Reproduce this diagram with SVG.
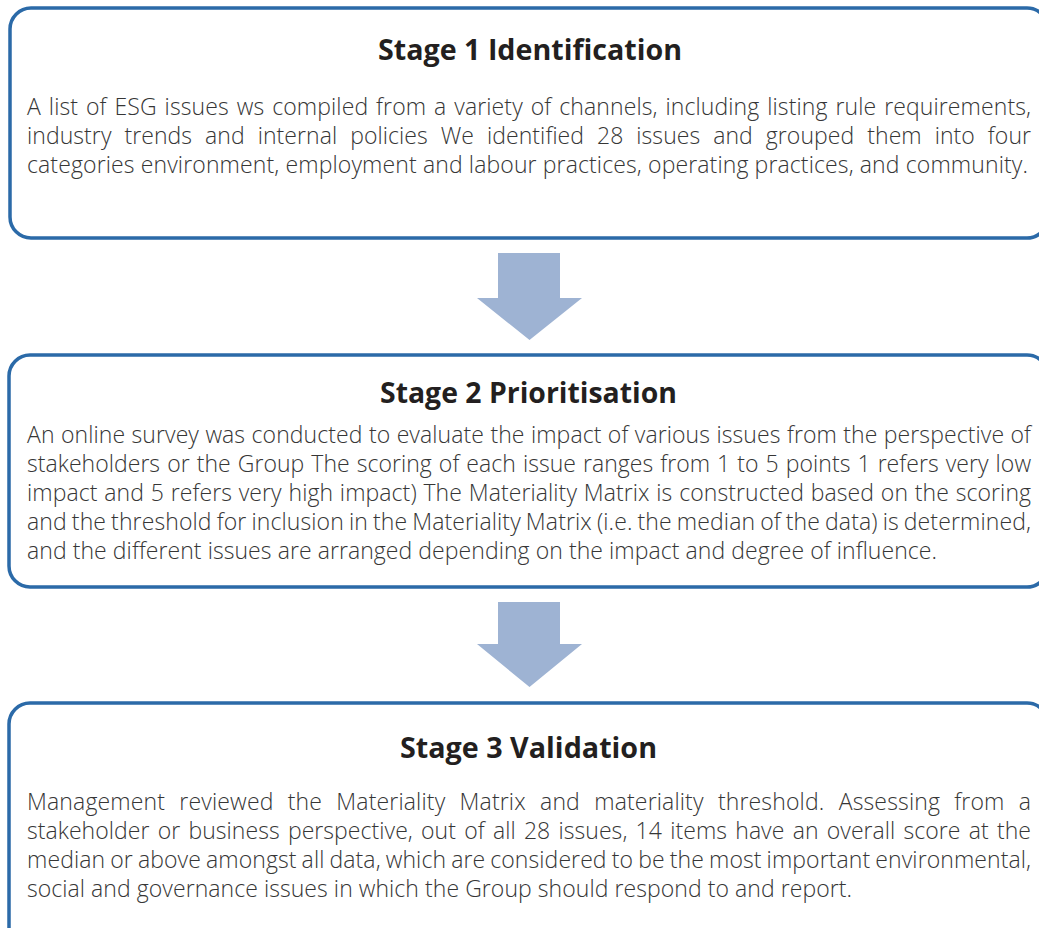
<svg xmlns="http://www.w3.org/2000/svg" width="1039" height="928" viewBox="0 0 1039 928">
<style>
.box{fill:#ffffff;stroke:#2b6aa8;stroke-width:3.5}
.arrow{fill:#9eb3d3}
.title{font-family:"Open Sans","Noto Sans",sans-serif;font-weight:700;font-size:28.5px;fill:#231f20;text-anchor:middle}
.body{font-family:"Open Sans","Noto Sans",sans-serif;font-weight:300;font-size:23px;fill:#363636}
</style>
<rect width="1039" height="928" fill="#ffffff"/>
<g id="connectors">
<polygon class="arrow" points="498,253 560,253 560,298 582,298 529.5,340 477,298 498,298"/>
<polygon class="arrow" points="498,602 560,602 560,644 582,644 529.5,687 477,644 498,644"/>
</g>
<g id="stage1">
<rect class="box" x="10" y="8" width="1038" height="230" rx="21"/>
<text class="title" x="530" y="60" textLength="304" lengthAdjust="spacingAndGlyphs">Stage 1 Identification</text>
<text class="body" x="27" y="115" word-spacing="1.8" textLength="1004" lengthAdjust="spacing">A list of ESG issues ws compiled from a variety of channels, including listing rule requirements,</text>
<text class="body" x="27" y="144" word-spacing="6.9" textLength="1004" lengthAdjust="spacing">industry trends and internal policies We identified 28 issues and grouped them into four</text>
<text class="body" x="27" y="173" textLength="1001" lengthAdjust="spacing">categories environment, employment and labour practices, operating practices, and community.</text>
</g>
<g id="stage2">
<rect class="box" x="9" y="355" width="1039" height="232" rx="21"/>
<text class="title" x="528.5" y="403" textLength="297" lengthAdjust="spacingAndGlyphs">Stage 2 Prioritisation</text>
<text class="body" x="27" y="443" word-spacing="0.3" textLength="1004" lengthAdjust="spacing">An online survey was conducted to evaluate the impact of various issues from the perspective of</text>
<text class="body" x="27" y="472" word-spacing="1.0" textLength="1004" lengthAdjust="spacing">stakeholders or the Group The scoring of each issue ranges from 1 to 5 points 1 refers very low</text>
<text class="body" x="27" y="501" word-spacing="0.66" textLength="1004" lengthAdjust="spacing">impact and 5 refers very high impact) The Materiality Matrix is constructed based on the scoring</text>
<text class="body" x="27" y="530" word-spacing="-1.1" textLength="1004" lengthAdjust="spacing">and the threshold for inclusion in the Materiality Matrix (i.e. the median of the data) is determined,</text>
<text class="body" x="27" y="559" textLength="910" lengthAdjust="spacing">and the different issues are arranged depending on the impact and degree of influence.</text>
</g>
<g id="stage3">
<rect class="box" x="9" y="703" width="1039" height="260" rx="21"/>
<text class="title" x="528.5" y="758" textLength="257" lengthAdjust="spacingAndGlyphs">Stage 3 Validation</text>
<text class="body" x="27" y="810" word-spacing="8.1" textLength="1004" lengthAdjust="spacing">Management reviewed the Materiality Matrix and materiality threshold. Assessing from a</text>
<text class="body" x="27" y="839" word-spacing="2.2" textLength="1004" lengthAdjust="spacing">stakeholder or business perspective, out of all 28 issues, 14 items have an overall score at the</text>
<text class="body" x="27" y="868" word-spacing="-1.0" textLength="1004" lengthAdjust="spacing">median or above amongst all data, which are considered to be the most important environmental,</text>
<text class="body" x="27" y="897" textLength="825" lengthAdjust="spacing">social and governance issues in which the Group should respond to and report.</text>
</g>
</svg>
